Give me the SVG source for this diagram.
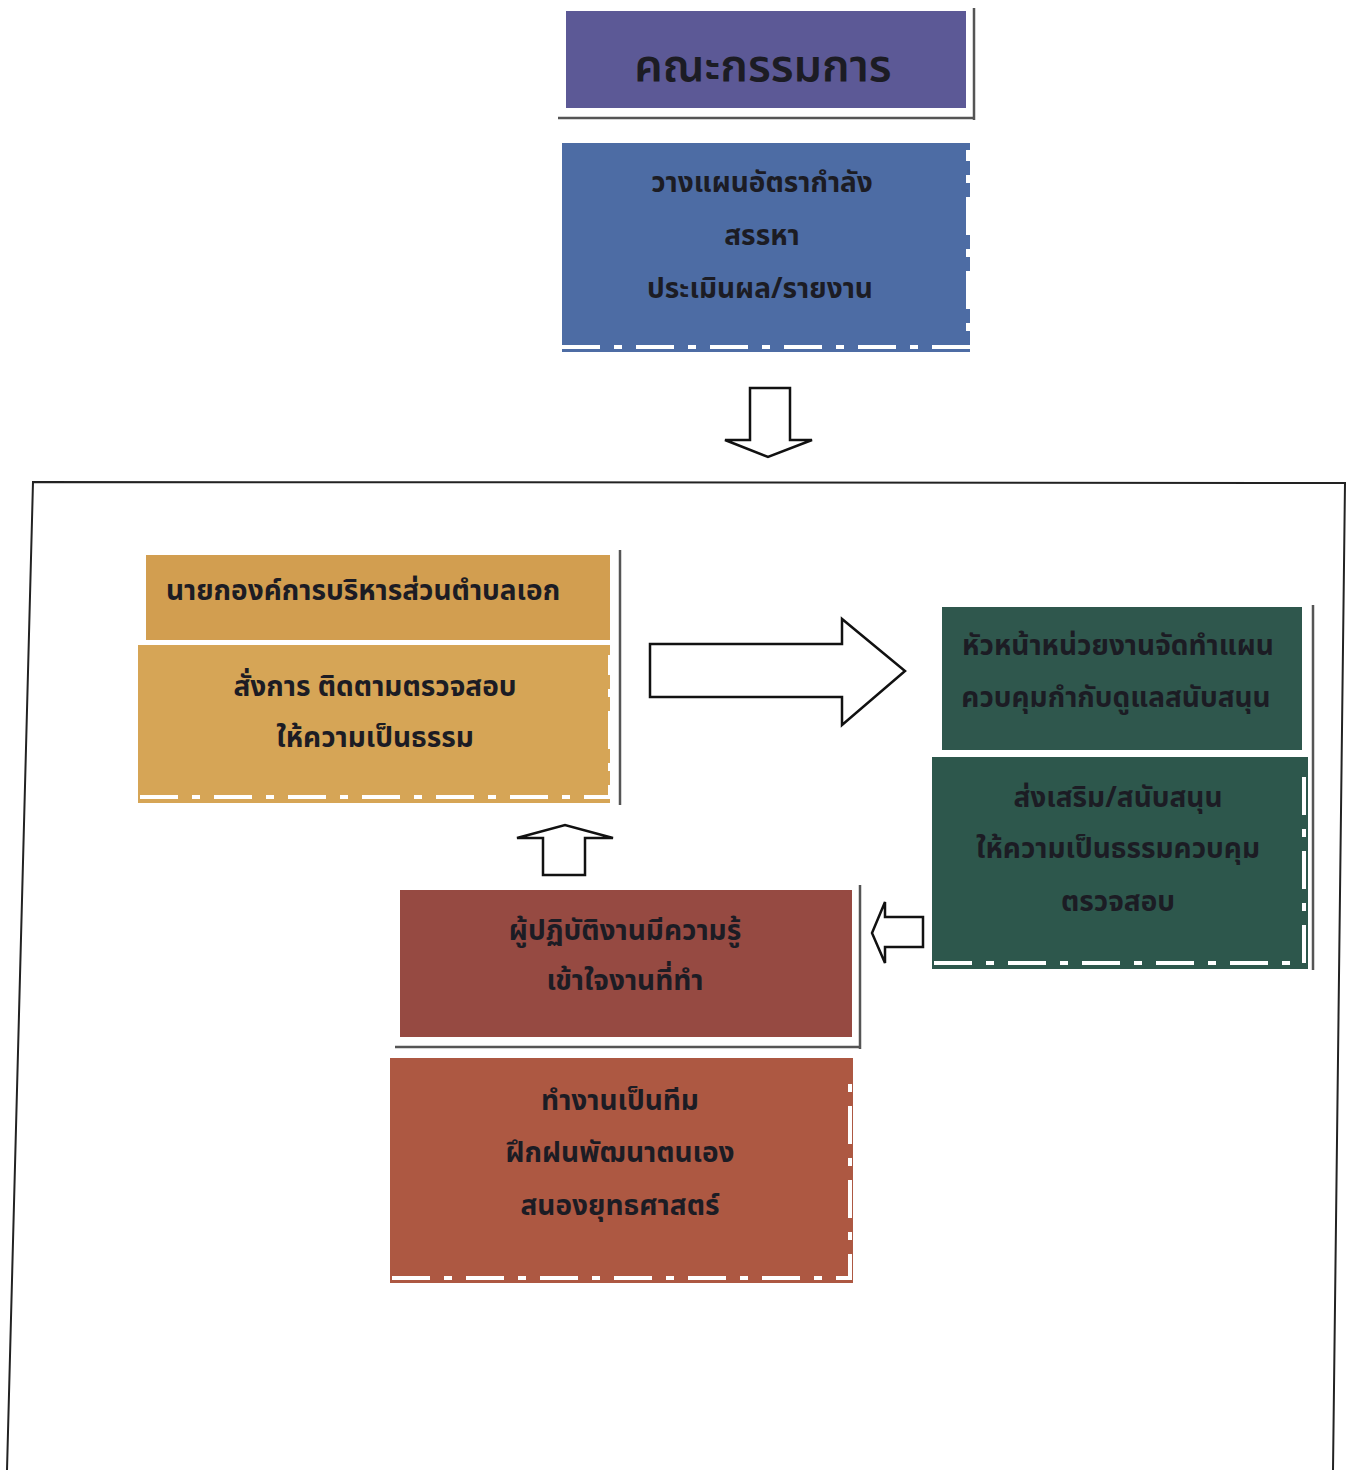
<svg xmlns="http://www.w3.org/2000/svg" width="1354" height="1470" viewBox="0 0 1354 1470">
<style>
text{font-family:"Noto Sans Thai","Noto Sans","DejaVu Sans",sans-serif;font-weight:bold;fill:#1c1c24;text-anchor:middle}
.t{font-size:28px}
.arrow{fill:#fff;stroke:#111;stroke-width:2.5;stroke-linejoin:miter}
.sh{stroke:#555;stroke-width:2.5;fill:none}
.dash{fill:none;stroke:#fff;stroke-width:4;stroke-dasharray:38 14 8 14}
</style>
<rect width="1354" height="1470" fill="#fff"/>
<g id="frame"><path d="M7,1470 L33,482 L1345,483 L1333,1470" fill="none" stroke="#222" stroke-width="2"/></g>

<g id="committee">
<rect x="566" y="11" width="400" height="97" fill="#5c5996"/>
<path class="sh" d="M558,118 L975,118 M974,8 L974,120"/>
<text x="763" y="81" style="font-size:45px;font-weight:600">คณะกรรมการ</text>
</g>
<g id="committee-tasks">
<rect x="562" y="143" width="408" height="209" fill="#4d6ca4"/>
<path class="dash" d="M562,347 L968,347 L968,150"/>
<text class="t" x="762" y="192">วางแผนอัตรากำลัง</text>
<text class="t" x="762" y="245">สรรหา</text>
<text class="t" x="760" y="298">ประเมินผล/รายงาน</text>
</g>

<g id="mayor">
<rect x="146" y="555" width="464" height="85" fill="#d29e50"/>
<path class="sh" d="M620,550 L620,805"/>
<text class="t" x="363" y="600">นายกองค์การบริหารส่วนตำบลเอก</text>
</g>
<g id="mayor-tasks">
<rect x="138" y="645" width="472" height="158" fill="#d6a556"/>
<path class="dash" d="M140,797 L610,797 L610,655"/>
<text class="t" x="375" y="696">สั่งการ ติดตามตรวจสอบ</text>
<text class="t" x="375" y="747">ให้ความเป็นธรรม</text>
</g>

<g id="head">
<rect x="942" y="607" width="360" height="143" fill="#2f574d"/>
<path class="sh" d="M1313,605 L1313,970"/>
<text class="t" x="1118" y="655">หัวหน้าหน่วยงานจัดทำแผน</text>
<text class="t" x="1116" y="707">ควบคุมกำกับดูแลสนับสนุน</text>
</g>
<g id="head-tasks">
<rect x="932" y="757" width="376" height="212" fill="#2d574c"/>
<path class="dash" d="M934,963 L1304,963 L1304,770"/>
<text class="t" x="1118" y="807">ส่งเสริม/สนับสนุน</text>
<text class="t" x="1118" y="858">ให้ความเป็นธรรมควบคุม</text>
<text class="t" x="1118" y="911">ตรวจสอบ</text>
</g>

<g id="worker">
<rect x="400" y="890" width="452" height="147" fill="#964a42"/>
<path class="sh" d="M395,1047 L860,1047 M860,885 L860,1049"/>
<text class="t" x="625" y="940">ผู้ปฏิบัติงานมีความรู้</text>
<text class="t" x="625" y="990">เข้าใจงานที่ทำ</text>
</g>
<g id="worker-tasks">
<rect x="390" y="1058" width="463" height="225" fill="#ad5842"/>
<path class="dash" d="M392,1278 L850,1278 L850,1070"/>
<text class="t" x="620" y="1110">ทำงานเป็นทีม</text>
<text class="t" x="620" y="1162">ฝึกฝนพัฒนาตนเอง</text>
<text class="t" x="620" y="1215">สนองยุทธศาสตร์</text>
</g>

<g id="connectors">
<polygon class="arrow" points="750,388 790,388 790,440 812,440 768,457 725,440 750,440"/>
<polygon class="arrow" points="650,644 842,644 842,619 905,671 842,725 842,697 650,697"/>
<polygon class="arrow" points="923,917 885,917 885,902 872,933 885,963 885,947 923,947"/>
<polygon class="arrow" points="543,875 543,838 517,838 565,825 613,838 585,838 585,875"/>
</g>
</svg>
